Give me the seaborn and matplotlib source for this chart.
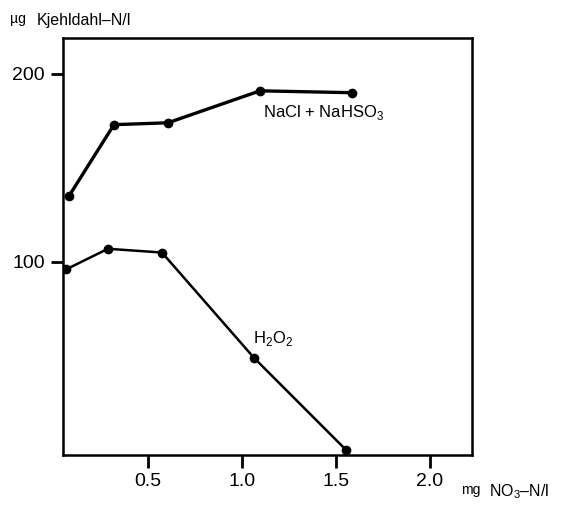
import matplotlib
matplotlib.use("Agg")
import matplotlib.pyplot as plt
import seaborn as sns
import pandas as pd

# Nitrate added (mg NO3-N/l) and Kjeldahl nitrogen found (µg N/l)
nacl_x = [0.077, 0.317, 0.605, 1.096, 1.587]
nacl_y = [135, 173, 174, 191, 190]
h2o2_x = [0.061, 0.285, 0.573, 1.064, 1.555]
h2o2_y = [96, 107, 105, 49, 0]

x_ticks = [0.5, 1.0, 1.5, 2.0]
x_tick_labels = ["0.5", "1.0", "1.5", "2.0"]
y_ticks = [100, 200]
y_tick_labels = ["100", "200"]

df = pd.concat([
    pd.DataFrame({"x": nacl_x, "y": nacl_y, "series": "NaCl + NaHSO3"}),
    pd.DataFrame({"x": h2o2_x, "y": h2o2_y, "series": "H2O2"}),
])

sns.set_theme(style="ticks")
plt.rcParams["font.family"] = ["Liberation Sans", "DejaVu Sans"]
plt.rcParams["mathtext.fontset"] = "custom"
plt.rcParams["mathtext.rm"] = "Liberation Sans"

W, H = 562, 509
fig = plt.figure(figsize=(W / 100, H / 100), dpi=100)
ax = fig.add_axes([0.112, 0.106, 0.728, 0.819])

sns.lineplot(data=df[df.series == "NaCl + NaHSO3"], x="x", y="y", ax=ax,
             color="black", linewidth=2.4, marker="o", markersize=7,
             markeredgewidth=0, sort=False)
sns.lineplot(data=df[df.series == "H2O2"], x="x", y="y", ax=ax,
             color="black", linewidth=1.8, marker="o", markersize=7,
             markeredgewidth=0, sort=False)

ax.set_xlim(0.045, 2.227)
ax.set_ylim(-2.7, 219)
ax.set_xticks(x_ticks)
ax.set_xticklabels(x_tick_labels)
ax.set_yticks(y_ticks)
ax.set_yticklabels(y_tick_labels)
ax.set_xlabel("")
ax.set_ylabel("")
ax.tick_params(axis="both", direction="out", length=9, width=2,
               labelsize=14, color="black", labelcolor="black", pad=4)
for s in ax.spines.values():
    s.set_visible(True)
    s.set_color("black")
    s.set_linewidth(1.8)

# series labels
ax.text(1.112, 177, "NaCl + NaHSO$_3$", fontsize=12, color="black",
        ha="left", va="baseline")
ax.text(1.059, 57, "H$_2$O$_2$", fontsize=12, color="black",
        ha="left", va="baseline")

# axis titles
fig.text(10 / W, 1 - 23 / H, "µg", fontsize=10, color="black",
         ha="left", va="baseline")
fig.text(37 / W, 1 - 25 / H, "Kjehldahl–N/l", fontsize=11.5, color="black",
         ha="left", va="baseline")
fig.text(461 / W, 1 - 494 / H, "mg", fontsize=10, color="black",
         ha="left", va="baseline")
fig.text(489 / W, 1 - 496 / H, "NO$_3$–N/l", fontsize=11.5, color="black",
         ha="left", va="baseline")

fig.savefig("out.png", dpi=100, facecolor="white")
